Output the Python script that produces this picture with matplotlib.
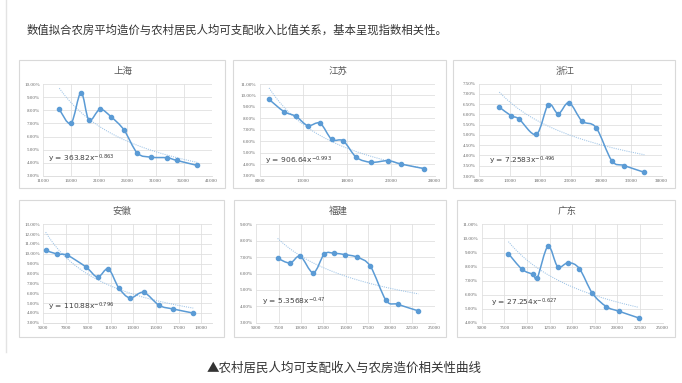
import matplotlib
matplotlib.use("Agg")
import matplotlib.pyplot as plt
import numpy as np
from matplotlib.path import Path
from matplotlib.patches import PathPatch, Rectangle

plt.rcParams['font.family'] = ['Noto Sans CJK SC', 'DejaVu Sans']

W, H = 682, 383

header = "数值拟合农房平均造价与农村居民人均可支配收入比值关系，基本呈现指数相关性。"
caption = "▲农村居民人均可支配收入与农房造价相关性曲线"

titles = ["上海", "江苏", "浙江", "安徽", "福建", "广东"]

# income (x) and ratio in % (y)
sh_x = [13850, 15930, 17710, 19140, 21100, 23120, 25380, 27760, 30250, 33100, 34770, 38390]
sh_y = [8.08, 7.01, 9.36, 7.26, 8.08, 7.49, 6.50, 4.73, 4.42, 4.37, 4.17, 3.79]
js_x = [9070, 10780, 12150, 13490, 14900, 16230, 17560, 19050, 20760, 22670, 24190, 26780]
js_y = [9.66, 8.59, 8.18, 7.37, 7.57, 6.17, 6.03, 4.60, 4.17, 4.31, 4.01, 3.62]
zj_x = [11290, 13270, 14530, 17380, 19350, 21000, 22760, 24890, 27200, 29780, 31810, 35150]
zj_y = [6.36, 5.93, 5.78, 5.03, 6.48, 6.04, 6.57, 5.68, 5.36, 3.75, 3.51, 3.18]
ah_x = [5210, 6210, 7130, 8790, 9820, 10770, 11690, 12690, 13900, 15290, 16540, 18310]
ah_y = [10.36, 9.98, 9.85, 8.66, 7.64, 8.46, 6.56, 5.51, 6.08, 4.76, 4.39, 3.98]
fj_x = [7390, 8780, 9930, 11390, 12630, 13750, 14950, 16330, 17790, 19540, 20850, 23170]
fj_y = [6.93, 6.64, 7.05, 6.05, 7.19, 7.23, 7.15, 6.99, 6.44, 4.37, 4.12, 3.72]
gd_x = [7950, 9460, 10640, 11150, 12330, 13400, 14580, 15790, 17230, 18780, 20180, 22350]
gd_y = [8.92, 7.81, 7.45, 7.22, 9.44, 8.00, 8.28, 7.86, 6.11, 5.16, 4.83, 4.36]

# power trendline y = a * x^b (fraction)
trend_a = [363.82, 906.64, 7.2583, 110.88, 5.3568, 27.254]
trend_b = [-0.863, -0.993, -0.496, -0.796, -0.47, -0.627]
trend_a_txt = ["363.82", "906.64", "7.2583", "110.88", "5.3568", "27.254"]
trend_b_txt = ["-0.863", "-0.993", "-0.496", "-0.796", "-0.47", "-0.627"]

xs = [sh_x, js_x, zj_x, ah_x, fj_x, gd_x]
ys = [sh_y, js_y, zj_y, ah_y, fj_y, gd_y]

x_ticks = [
    list(range(11000, 41001, 5000)),
    list(range(8000, 28001, 5000)),
    list(range(8000, 38001, 5000)),
    list(range(5000, 19001, 2000)),
    list(range(5000, 25001, 2500)),
    list(range(5000, 25001, 2500)),
]
x_lims = [(11000, 41000), (8000, 28000), (8000, 38000), (5000, 20000), (5000, 25000), (5000, 25000)]
y_ticks = [
    list(np.arange(3, 10.01, 1.0)),
    list(np.arange(3, 11.01, 1.0)),
    list(np.arange(3, 7.51, 0.5)),
    list(np.arange(3, 13.01, 1.0)),
    list(np.arange(3, 9.01, 1.0)),
    list(np.arange(4, 11.01, 1.0)),
]

# layout (pixel coords, top-left origin)
boxes = [(19, 60, 225, 188), (233, 60, 446, 188), (453, 60, 675, 188),
         (19, 200, 224, 337), (234, 200, 446, 337), (457, 200, 675, 337)]
axes_px = [(43.3, 84.3, 211.7, 175.7), (259.7, 84.0, 434.7, 175.7), (479.3, 83.7, 661.7, 176.0),
           (43.3, 224.3, 212.3, 322.7), (256.3, 224.3, 434.7, 322.7), (481.7, 224.3, 662.7, 323.0)]
title_px = [(123.3, 71.7), (338, 71.7), (565, 71.0), (121.7, 211), (338, 211), (566.7, 211)]
eq_px = [(48.3, 159), (264.7, 161), (489, 160.7), (48.3, 307), (262, 301.7), (490.7, 303.3)]

fig = plt.figure(figsize=(W / 100, H / 100), dpi=100)
fig.patch.set_facecolor('white')

def fx(x):
    return x / W

def fy(y):
    return 1 - y / H

# left vertical rule
fig.add_artist(plt.Line2D([fx(5.5), fx(5.5)], [fy(0), fy(352)], color='#e3e3e3', lw=1.0))

fig.text(fx(27), fy(30), header, fontsize=8.2, color='#333333', va='center', ha='left')
fig.text(fx(344), fy(368), caption, fontsize=9, color='#333333', va='center', ha='center')

for b in boxes:
    x0, y0, x1, y1 = b
    fig.add_artist(Rectangle((fx(x0), fy(y1)), fx(x1) - fx(x0), fy(y0) - fy(y1),
                             transform=fig.transFigure, facecolor='white',
                             edgecolor='#d9d9d9', lw=0.8, zorder=0))

line_color = '#5B9BD5'
trend_color = '#9DC3E6'

def smooth_path(x, y):
    x = np.asarray(x, float)
    y = np.asarray(y, float)
    n = len(x)
    verts = [(x[0], y[0])]
    codes = [Path.MOVETO]
    for i in range(n - 1):
        xm1, ym1 = (x[i - 1], y[i - 1]) if i > 0 else (x[i], y[i])
        xp2, yp2 = (x[i + 2], y[i + 2]) if i + 2 < n else (x[i + 1], y[i + 1])
        c1 = (x[i] + (x[i + 1] - xm1) / 6, y[i] + (y[i + 1] - ym1) / 6)
        c2 = (x[i + 1] - (xp2 - x[i]) / 6, y[i + 1] - (yp2 - y[i]) / 6)
        verts += [c1, c2, (x[i + 1], y[i + 1])]
        codes += [Path.CURVE4, Path.CURVE4, Path.CURVE4]
    return Path(verts, codes)

for k in range(6):
    x0, y0, x1, y1 = axes_px[k]
    ax = fig.add_axes([fx(x0), fy(y1), fx(x1) - fx(x0), fy(y0) - fy(y1)])
    ax.set_facecolor('none')
    ax.set_xlim(*x_lims[k])
    ax.set_ylim(y_ticks[k][0], y_ticks[k][-1])
    ax.set_xticks(x_ticks[k])
    ax.set_yticks(y_ticks[k])
    ax.set_xticklabels([str(v) for v in x_ticks[k]], fontsize=3.6, color='#666666',
                       family=['Liberation Serif'])
    ax.set_yticklabels(['%.2f%%' % v for v in y_ticks[k]], fontsize=3.6, color='#666666',
                       family=['Liberation Serif'])
    ax.tick_params(length=0, pad=2.5)
    ax.grid(True, color='#e0e0e0', lw=0.6)
    ax.set_axisbelow(True)
    for s in ax.spines.values():
        s.set_visible(False)
    ax.spines['bottom'].set_visible(True)
    ax.spines['bottom'].set_color('#d9d9d9')
    ax.spines['bottom'].set_linewidth(0.6)

    xd = np.array(xs[k], float)
    yd = np.array(ys[k], float)
    # trendline
    xt = np.linspace(xd[0], xd[-1], 200)
    yt = trend_a[k] * xt ** trend_b[k] * 100
    ax.plot(xt, yt, color=trend_color, lw=0.75, ls=(0, (1, 1.1)), zorder=2)
    # smoothed series
    ax.add_patch(PathPatch(smooth_path(xd, yd), facecolor='none', edgecolor=line_color,
                           lw=1.1, zorder=3))
    ax.plot(xd, yd, ls='none', marker='o', ms=3.0, color=line_color, zorder=4)

    tx, ty = title_px[k]
    fig.text(fx(tx), fy(ty), titles[k], fontsize=6.8, color='#595959', ha='center', va='center')
    ex, ey = eq_px[k]
    fig.text(fx(ex), fy(ey), 'y = ' + trend_a_txt[k] + 'x$^{\\mathregular{' + trend_b_txt[k] + '}}$',
             fontsize=5.4, color='#404040', ha='left', va='center', family=['DejaVu Sans'])

fig.savefig('out.png', dpi=100, facecolor='white')
